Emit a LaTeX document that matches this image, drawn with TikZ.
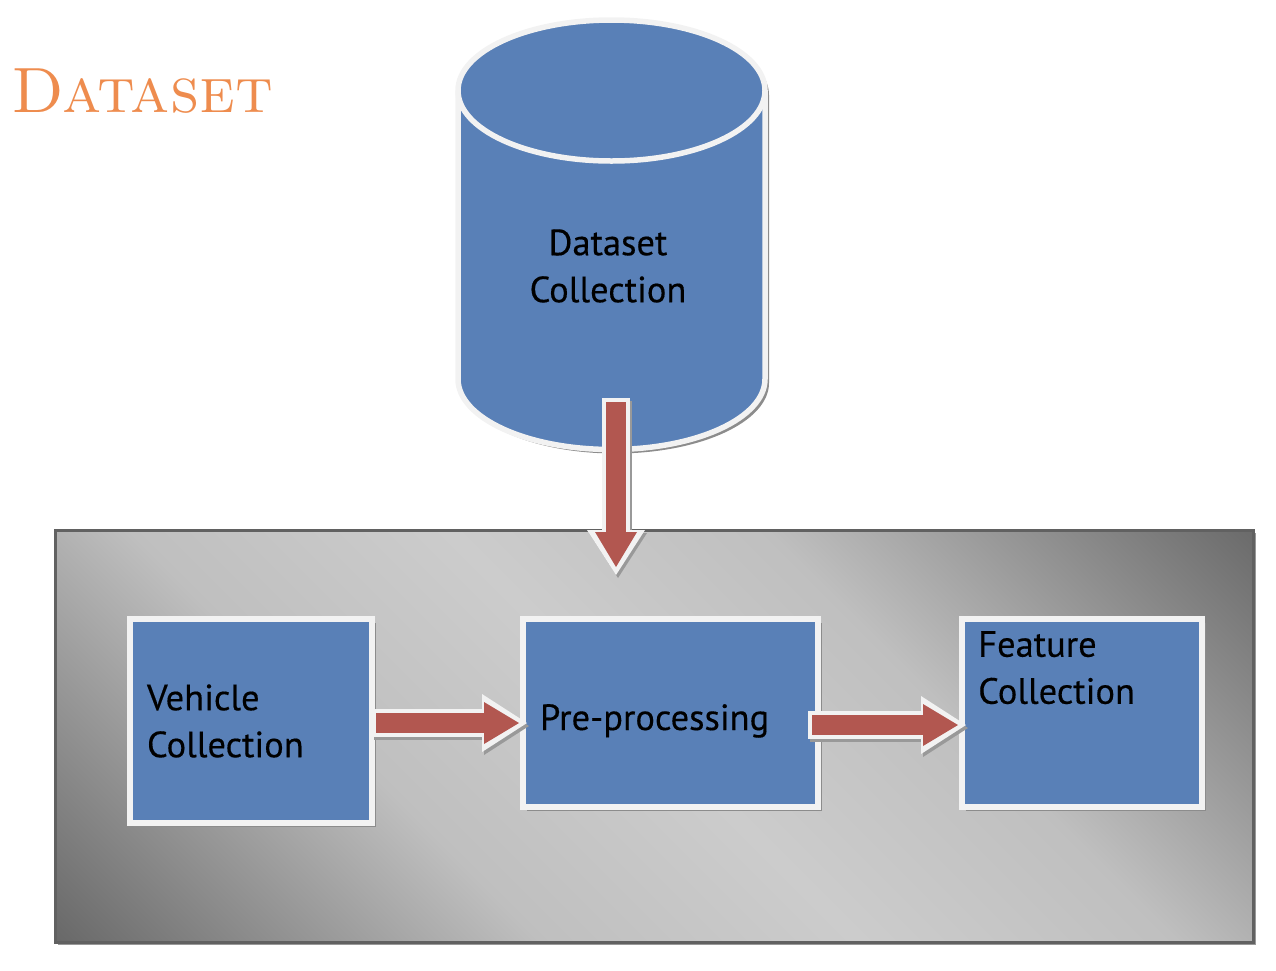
\documentclass[tikz,border=0pt]{standalone}
\usepackage{fontspec}
\newfontfamily\boxfont[FakeBold=0.35]{PT Sans}
\usetikzlibrary{arrows.meta,shadows,positioning}
\definecolor{boxblue}{RGB}{89,128,183}
\definecolor{arrowred}{RGB}{178,87,80}
\definecolor{rimwhite}{RGB}{242,242,242}
\definecolor{titleorange}{RGB}{238,140,78}
\pgfdeclarehorizontalshading{panelshade}{100bp}{%
  color(0bp)=(black!59); color(14.6bp)=(black!59); color(36bp)=(black!25);
  color(50bp)=(black!20); color(64bp)=(black!25); color(85.4bp)=(black!58);
  color(100bp)=(black!58)}
\begin{document}
\begin{tikzpicture}[x=1pt,y=-1pt,
  panel/.style={draw=black!62,line width=3pt,shading=panelshade,shading angle=45,
    minimum width=1198pt,minimum height=412pt,inner sep=0pt,outer sep=0pt,
    drop shadow={shadow xshift=3pt,shadow yshift=-3pt,fill=black!40,opacity=1}},
  blockbox/.style={draw=rimwhite,line width=5.5pt,fill=boxblue,outer sep=0pt,
    inner xsep=17pt,inner ysep=0pt,align=left,boxtext,
    drop shadow={shadow xshift=4pt,shadow yshift=-4pt,fill=black!45,opacity=1}},
  boxtext/.style={font=\boxfont\fontsize{36.5}{47}\selectfont},
  rim/.style={line width=28pt,draw=rimwhite,
    -{Triangle[length=45pt,width=58pt,line width=0pt]}},
  core/.style={line width=20pt,draw=arrowred,shorten >=8pt,shorten <=4pt,
    -{Triangle[length=35pt,width=42pt,line width=0pt]}},
  rimshadow/.style={rim,draw=black!40,transform canvas={shift={(2pt,-3pt)}}}
]
\useasboundingbox (0,0) rectangle (1276,970);
\def\rx{153.5pt}
\def\ry{70.5pt}
% title
\node[anchor=base west,inner sep=0pt,text=titleorange,
  font=\fontsize{64}{70}\selectfont] (title) at (11,112) {\textsc{Dataset}};
% cylinder
\fill[black!45] (462,95) -- (462,383) arc[start angle=180,end angle=360,x radius=\rx,y radius=\ry]
  -- (769,95) arc[start angle=0,end angle=180,x radius=\rx,y radius=\ry] -- cycle;
\filldraw[fill=boxblue,draw=rimwhite,line width=5.5pt]
  (458,90.5) -- (458,379) arc[start angle=180,end angle=360,x radius=\rx,y radius=\ry]
  -- (765,90.5) arc[start angle=0,end angle=180,x radius=\rx,y radius=\ry] -- cycle;
\draw[draw=rimwhite,line width=5.5pt]
  (458,90.5) arc[start angle=180,end angle=360,x radius=\rx,y radius=\ry];
\node[boxtext,align=center,inner sep=0pt] (dataset) at (608,266) {Dataset\\Collection};
% process panel
\node[panel] (panel) at (654,736) {};
\node[blockbox,minimum width=242pt,minimum height=204pt,text width=208pt]
  (vehicle) at (251,721) {Vehicle\\Collection};
\node[blockbox,minimum width=295pt,minimum height=188pt,text width=261pt,
  text height=34pt,text depth=0pt] (pre) at (670.5,713) {Pre-processing};
\node[blockbox,minimum width=240pt,minimum height=188pt,
  label={[anchor=north west,inner sep=0pt,align=left,boxtext,xshift=16pt,yshift=-12pt]north west:Feature\\Collection}]
  (feature) at (1082,713) {};
% arrows
\coordinate (dstail) at (616,398);
\coordinate (dshead) at (616,575);
\coordinate (vtail) at (vehicle.east |- 0,723);
\coordinate (ptail) at (808,725);
\foreach \a/\b in {dstail/dshead,vtail/{527,723},ptail/{966,725}}{
  \draw[rimshadow] (\a) -- (\b);
  \draw[rim] (\a) -- (\b);
  \draw[core] (\a) -- (\b);
}
\end{tikzpicture}
\end{document}
